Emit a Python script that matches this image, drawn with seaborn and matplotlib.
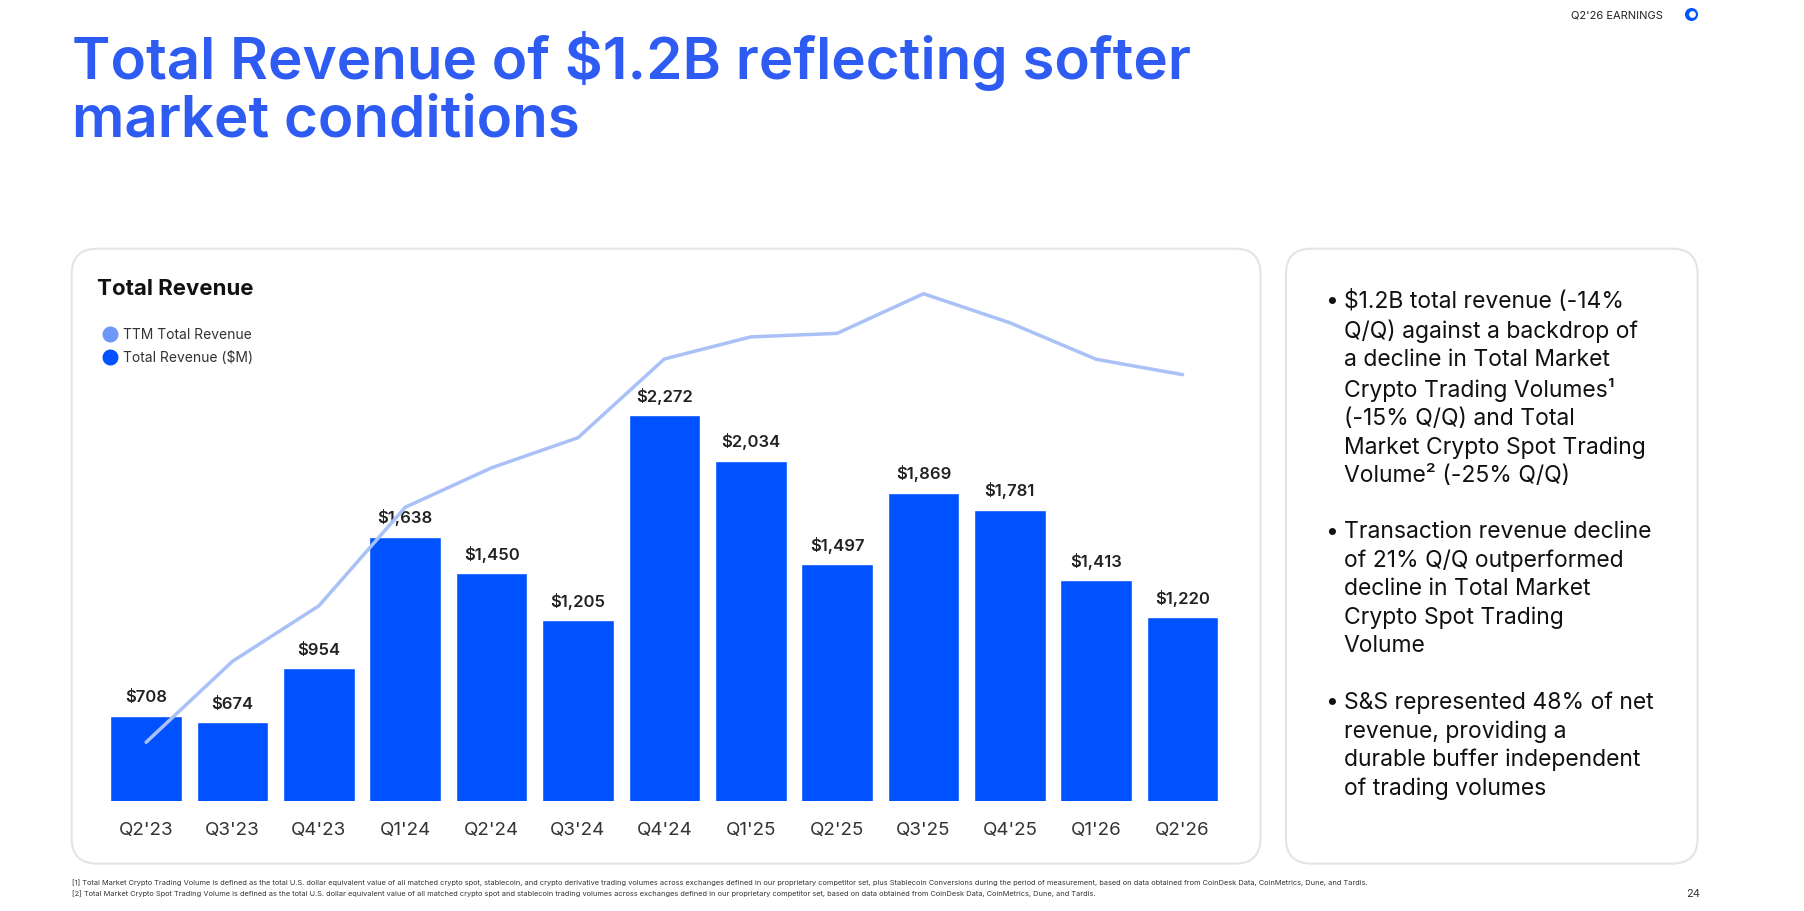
import matplotlib
matplotlib.use("Agg")
import matplotlib.pyplot as plt
import seaborn as sns
import pandas as pd
from matplotlib.patches import FancyBboxPatch

sns.set_theme(style="white")
plt.rcParams['font.family'] = ['Inter', 'DejaVu Sans']

# data
quarters = ["Q2'23", "Q3'23", "Q4'23", "Q1'24", "Q2'24", "Q3'24", "Q4'24",
            "Q1'25", "Q2'25", "Q3'25", "Q4'25", "Q1'26", "Q2'26"]
revenue = [708, 674, 954, 1638, 1450, 1205, 2272, 2034, 1497, 1869, 1781, 1413, 1220]
ttm = [64, 1437, 2378, 4050, 4720, 5230, 6565, 6940, 7000, 7672, 7180, 6560, 6300]

BLUE = "#0052FF"
LIGHT = "#A9C1F7"
TITLE = "#2E5BF2"

fig = plt.figure(figsize=(18.04, 9.12), dpi=100)
W, H = 1560, 789

# overlay in reference pixel coords
bg = fig.add_axes([0, 0, 1, 1])
bg.set_xlim(0, W)
bg.set_ylim(H, 0)
bg.axis("off")

for (x0, y0, x1, y1) in [(62, 216, 1090, 748), (1112, 216, 1468, 748)]:
    bg.add_patch(FancyBboxPatch((x0, y0), x1 - x0, y1 - y0,
                                boxstyle="round,pad=0,rounding_size=22",
                                fc="white", ec="#E2E4E8", lw=1.5))

bg.text(62, 78, "Total Revenue of $1.2B reflecting softer\nmarket conditions",
        color=TITLE, fontsize=42, fontweight="semibold", va="center", linespacing=1.08)
bg.text(1438, 13, "Q2'26 EARNINGS", fontsize=8, ha="right", va="center", color="#222")
bg.scatter([1462], [13], s=70, color=BLUE)
bg.scatter([1463], [13], s=15, color="white")
bg.text(84, 250, "Total Revenue", fontsize=16, fontweight="bold", va="center", color="#111")
bg.scatter([95], [290], s=110, color="#6E97F7")
bg.text(106, 290, "TTM Total Revenue", fontsize=10, va="center", color="#333")
bg.scatter([95], [310], s=110, color=BLUE)
bg.text(106, 310, "Total Revenue ($M)", fontsize=10, va="center", color="#333")

bullets = [
    (251, "$1.2B total revenue (-14%\nQ/Q) against a backdrop of\na decline in Total Market\nCrypto Trading Volumes\u00b9\n(-15% Q/Q) and Total\nMarket Crypto Spot Trading\nVolume\u00b2 (-25% Q/Q)"),
    (451, "Transaction revenue decline\nof 21% Q/Q outperformed\ndecline in Total Market\nCrypto Spot Trading\nVolume"),
    (598, "S&S represented 48% of net\nrevenue, providing a\ndurable buffer independent\nof trading volumes"),
]
for y, t in bullets:
    bg.text(1146, y, "\u2022", fontsize=16.5, va="top", color="#111")
    bg.text(1162, y, t, fontsize=16.5, va="top", color="#111", linespacing=1.36)

bg.text(62, 764, "[1] Total Market Crypto Trading Volume is defined as the total U.S. dollar equivalent value of all matched crypto spot, stablecoin, and crypto derivative trading volumes across exchanges defined in our proprietary competitor set, plus Stablecoin Conversions during the period of measurement, based on data obtained from CoinDesk Data, CoinMetrics, Dune, and Tardis.",
        fontsize=5.3, va="center", color="#333")
bg.text(62, 773, "[2] Total Market Crypto Spot Trading Volume is defined as the total U.S. dollar equivalent value of all matched crypto spot and stablecoin trading volumes across exchanges defined in our proprietary competitor set, based on data obtained from CoinDesk Data, CoinMetrics, Dune, and Tardis.",
        fontsize=5.3, va="center", color="#333")
bg.text(1470, 773, "24", fontsize=8, ha="right", va="center", color="#333")

# chart axes: x 89..1060, y 250..694 (reference px)
ax = fig.add_axes([89 / W, 1 - 694 / H, (1060 - 89) / W, (694 - 250) / H])
ax.patch.set_alpha(0)
df = pd.DataFrame({"q": quarters, "rev": revenue, "ttm": ttm})
sns.barplot(data=df, x="q", y="rev", color=BLUE, saturation=1, width=0.83, ax=ax)
ax.set_ylim(263, 2934)
ax.set_xlim(-0.5, len(quarters) - 0.5)
for i, v in enumerate(revenue):
    ax.text(i, v + 60, f"${v:,}", ha="center", va="bottom", fontsize=12,
            fontweight="semibold", color="#222")
ax.set_xlabel("")
ax.set_ylabel("")
ax.set_yticks([])
ax.tick_params(axis="x", length=0, labelsize=13.5, labelcolor="#333", pad=14)
sns.despine(ax=ax, left=True, bottom=True)

ax2 = ax.twinx()
sns.lineplot(x=range(len(quarters)), y=ttm, color=LIGHT, lw=2.5, ax=ax2)
ax2.set_ylim(-936, 7770)
ax2.set_yticks([])
sns.despine(ax=ax2, left=True, bottom=True, right=True)

fig.savefig("out.png", dpi=100)
